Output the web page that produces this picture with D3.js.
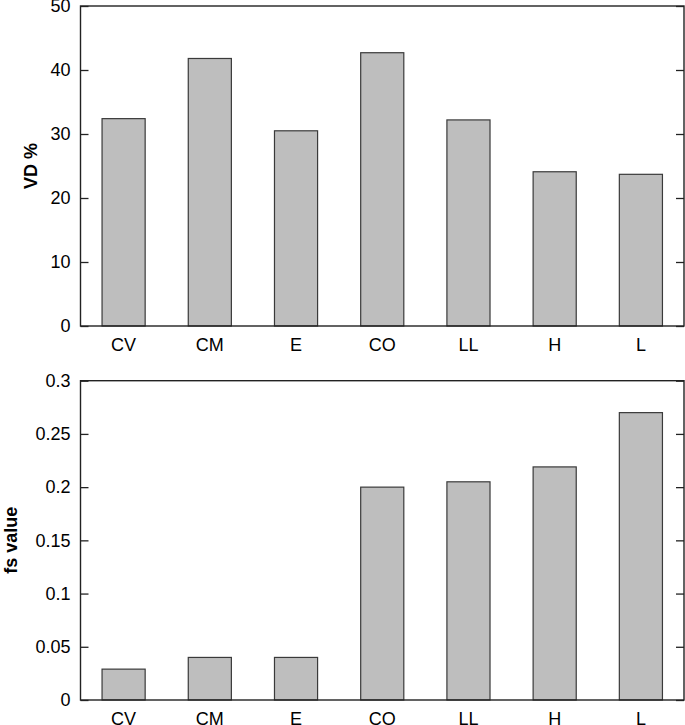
<!DOCTYPE html>
<html><head><meta charset="utf-8">
<script src="https://cdn.jsdelivr.net/npm/d3@7"></script>
<style>body{margin:0;background:#fff}svg{display:block}text{font-family:"Liberation Sans",Arial,Helvetica,sans-serif}</style>
</head><body>
<svg id="c" width="685" height="725"></svg>
<script>
const categories = ["CV","CM","E","CO","LL","H","L"];
const vdValues = [32.4, 41.8, 30.5, 42.7, 32.2, 24.1, 23.7];
const fsValues = [0.029, 0.040, 0.040, 0.200, 0.205, 0.219, 0.270];
const vdTicks = [0,10,20,30,40,50];
const fsTicks = [0,0.05,0.1,0.15,0.2,0.25,0.3];
const fsTickLabels = ["0","0.05","0.1","0.15","0.2","0.25","0.3"];

const svg = d3.select("#c");
const left = 80.5, right = 684;

function panel(top, bottom, values, ticks, labels, domainMax, ylabel, ylabelX){
  const x = d3.scaleBand().domain(categories).range([left,right]).paddingInner(0.5).paddingOuter(0.25);
  const y = d3.scaleLinear().domain([0,domainMax]).range([bottom,top]);
  const g = svg.append("g");
  g.selectAll("rect.bar").data(values).enter().append("rect")
    .attr("class","bar")
    .attr("x",(d,i)=>x(categories[i]))
    .attr("width",x.bandwidth())
    .attr("y",d=>y(d))
    .attr("height",d=>y(0)-y(d))
    .attr("fill","#bebebe").attr("stroke","#3a3a3a").attr("stroke-width",1.2);
  g.append("rect").attr("x",left).attr("y",top).attr("width",right-left).attr("height",bottom-top)
    .attr("fill","none").attr("stroke","#222").attr("stroke-width",1.4);
  const la = d3.axisLeft(y).tickValues(ticks).tickSize(-8).tickPadding(10).tickFormat((d,i)=>labels[i]);
  const lg = g.append("g").attr("transform",`translate(${left},0)`).call(la);
  lg.select(".domain").remove();
  lg.selectAll("line").attr("stroke","#222").attr("stroke-width",1.3);
  lg.selectAll("text").attr("font-size",18).attr("fill","#000");
  const ra = d3.axisRight(y).tickValues(ticks).tickSize(-8).tickFormat("");
  const rg = g.append("g").attr("transform",`translate(${right},0)`).call(ra);
  rg.select(".domain").remove();
  rg.selectAll("line").attr("stroke","#222").attr("stroke-width",1.3);
  const xa = d3.axisBottom(x).tickSize(0).tickPadding(12);
  const xg = g.append("g").attr("transform",`translate(0,${bottom})`).call(xa);
  xg.select(".domain").remove();
  xg.selectAll("text").attr("font-size",18).attr("fill","#000");
  g.append("text").attr("transform",`translate(${ylabelX},${(top+bottom)/2}) rotate(-90)`)
    .attr("text-anchor","middle").attr("font-size",18).attr("font-weight","bold").attr("fill","#000").text(ylabel);
}
panel(6, 326, vdValues, vdTicks, vdTicks.map(String), 50, "VD %", 37);
panel(380.7, 700, fsValues, fsTicks, fsTickLabels, 0.3, "fs value", 17);
</script>
</body></html>
